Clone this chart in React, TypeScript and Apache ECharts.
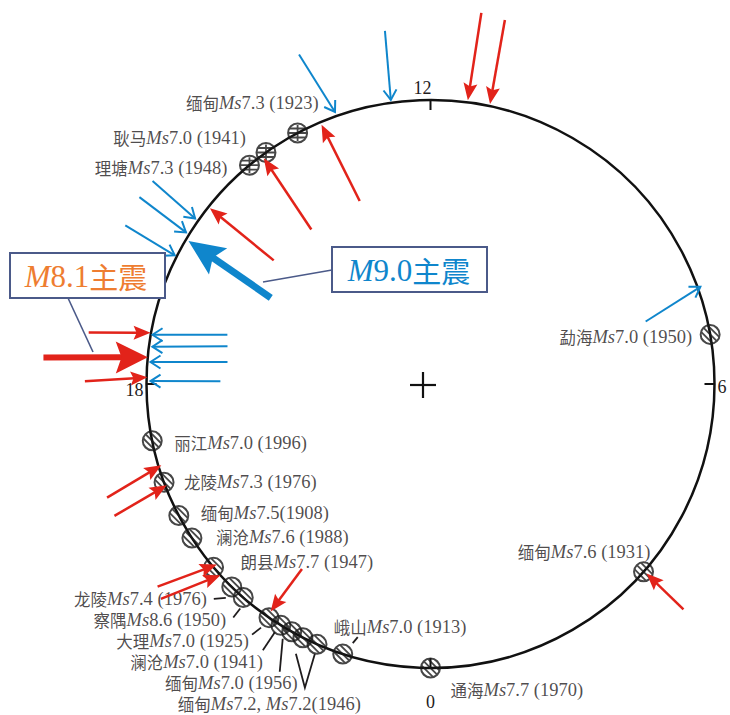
import React, { useEffect, useRef } from 'react';
import * as echarts from 'echarts';

// ---- Dial (24 h, 0 at the bottom, counter-clockwise) ----
const dialMax = 24;
const dialStep = 6;

// ---- Earthquakes placed on the dial ----
const quakeLabels = [
  '缅甸|Ms7.3 (1923)',
  '耿马|Ms7.0 (1941)',
  '理塘|Ms7.3 (1948)',
  '勐海|Ms7.0 (1950)',
  '缅甸|Ms7.6 (1931)',
  '通海|Ms7.7 (1970)',
  '丽江|Ms7.0 (1996)',
  '龙陵|Ms7.3 (1976)',
  '缅甸|Ms7.5(1908)',
  '澜沧|Ms7.6 (1988)',
  '朗县|Ms7.7 (1947)',
  '龙陵|Ms7.4 (1976)',
  '察隅|Ms8.6 (1950)',
  '大理|Ms7.0 (1925)',
  '澜沧|Ms7.0 (1941)',
  '缅甸|Ms7.0 (1956)',
  '缅甸|Ms7.2, Ms7.2(1946)',
  '',
  '峨山|Ms7.0 (1913)',
];
const quakeHours = [
  13.86, 14.36, 14.64, 6.67, 3.24, 0.0, 18.77, 19.35, 19.84, 20.19,
  20.68, 21.04, 21.25, 21.69, 21.88, 22.05, 22.22, 22.43, 22.8,
];

// ---- Arrows: [tipRadius, tipHour, tailRadius, tailHour] (radius 1 = dial) ----
const redArrows = [
  [1.008, 11.5, 1.319, 11.48],
  [1.008, 11.2, 1.308, 11.23],
  [0.99, 13.52, 0.691, 13.41],
  [0.988, 14.43, 0.687, 14.51],
  [0.993, 15.43, 0.703, 15.45],
  [1.002, 17.31, 1.217, 17.43],
  [0.997, 17.91, 1.217, 17.97],
  [0.99, 19.12, 1.207, 19.29],
  [0.995, 19.4, 1.206, 19.51],
  [0.985, 20.68, 1.197, 20.44],
  [1.0, 20.82, 1.214, 20.57],
  [0.979, 21.66, 0.793, 21.68],
  [1.012, 3.25, 1.193, 3.22],
];
const blueArrows = [
  [1.01, 12.53, 1.254, 12.49],
  [1.015, 13.29, 1.249, 13.45],
  [1.013, 15.66, 1.212, 15.59],
  [1.013, 15.88, 1.218, 15.82],
  [1.008, 16.22, 1.211, 16.17],
  [0.994, 17.33, 0.736, 17.09],
  [0.988, 17.49, 0.727, 17.3],
  [0.989, 17.7, 0.719, 17.59],
  [0.986, 17.96, 0.74, 17.95],
  [1.01, 7.32, 0.789, 7.08],
];
const redMainArrow = [1.0, 17.64, 1.366, 17.74];
const blueMainArrow = [0.99, 15.96, 0.639, 16.11];

// ---- Styling ----
const LATIN = '"Liberation Serif", "Times New Roman", serif';
const CJK = '"Noto Sans CJK SC", sans-serif';
const INK = '#1f1c1d';
const RED = '#e2231a';
const BLUE = '#0f86cc';
const FRAME = '#4b5a89';
const ORANGE = '#ee7d31';
const LATIN_SIZE = 18.5;
const CJK_SIZE = 16.5;

// marker style per quake: 'bar' = horizontal stripes, 'diag' = diagonal hatching
const markerKinds = quakeHours.map((_, i) => (i < 3 ? 'bar' : 'diag'));

// label placement per quake: [align, dx, dy] from the marker centre
const labelPlacement: [string, number, number][] = [
  ['right', 21, -30],
  ['right', -20, -15],
  ['right', -22, 3],
  ['right', -18, 3],
  ['right', 7, -20],
  ['left', 20, 22],
  ['left', 22, 2],
  ['left', 20, 0],
  ['left', 22, -3],
  ['left', 24, -1],
  ['left', 27, -5],
  ['right', -25, 12],
  ['right', -17, 22.5],
  ['right', -20, 23.5],
  ['right', -18, 36.5],
  ['right', 6, 51],
  ['right', 58, 66],
  ['left', 0, 0],
  ['left', -9, -27],
];

// leader lines from crowded labels to their markers (pixel offsets)
const leaderOffsets: Record<number, number[][]> = {
  11: [[-18, 12], [-6, 11]],
  12: [[-10, 20], [-3, 11]],
  13: [[-17, 17], [-8, 10]],
  14: [[-18, 25], [-6, 7]],
  15: [[-12, 40], [-9, 7]],
  16: [[-7, 16], [2, 50], [12, 16]],
  18: [[10, -11], [15, -17]],
};

const arrowKinds = [
  { color: RED, width: 2.5, headLen: 17, headWidth: 14, filled: true },
  { color: RED, width: 6, headLen: 32, headWidth: 32, filled: true },
  { color: BLUE, width: 2, headLen: 10, headWidth: 13, filled: false },
  { color: BLUE, width: 7, headLen: 36, headWidth: 32, filled: true },
];

function markerSymbol(kind: string) {
  let inner = '';
  if (kind === 'bar') {
    inner =
      '<line x1="0" y1="13" x2="44" y2="13"/><line x1="0" y1="22" x2="44" y2="22"/>' +
      '<line x1="0" y1="31" x2="44" y2="31"/><line x1="22" y1="6" x2="22" y2="38"/>';
  } else {
    for (const c of [-26, -13, 0, 13, 26]) {
      inner += `<line x1="-10" y1="${-10 - c}" x2="54" y2="${54 - c}"/>`;
    }
  }
  const svg =
    '<svg xmlns="http://www.w3.org/2000/svg" width="44" height="44" viewBox="0 0 44 44">' +
    '<defs><clipPath id="k"><circle cx="22" cy="22" r="19"/></clipPath></defs>' +
    `<g clip-path="url(#k)" stroke="#1a1a1a" stroke-width="3.6">${inner}</g>` +
    '<circle cx="22" cy="22" r="19" fill="none" stroke="#1a1a1a" stroke-width="4"/></svg>';
  return 'image://data:image/svg+xml;charset=utf-8,' + encodeURIComponent(svg);
}

function richLabel(text: string) {
  if (!text) return '';
  const [place, rest] = text.split('|');
  return `{c|${place}}` + rest.replace(/Ms/g, '{i|Ms}');
}

function arrowShape(tip: number[], tail: number[], kind: number) {
  const s = arrowKinds[kind];
  const dx = tip[0] - tail[0];
  const dy = tip[1] - tail[1];
  const len = Math.hypot(dx, dy) || 1;
  const ux = dx / len;
  const uy = dy / len;
  const px = -uy;
  const py = ux;
  const bx = tip[0] - ux * s.headLen;
  const by = tip[1] - uy * s.headLen;
  const hw = s.headWidth / 2;
  if (s.filled) {
    const nx = tip[0] - ux * s.headLen * 0.82;
    const ny = tip[1] - uy * s.headLen * 0.82;
    return {
      type: 'group',
      children: [
        {
          type: 'line',
          shape: { x1: tail[0], y1: tail[1], x2: nx + ux, y2: ny + uy },
          style: { stroke: s.color, lineWidth: s.width },
        },
        {
          type: 'polygon',
          shape: {
            points: [
              [tip[0], tip[1]],
              [bx + px * hw, by + py * hw],
              [nx, ny],
              [bx - px * hw, by - py * hw],
            ],
          },
          style: { fill: s.color },
        },
      ],
    };
  }
  return {
    type: 'group',
    children: [
      {
        type: 'line',
        shape: { x1: tail[0], y1: tail[1], x2: tip[0], y2: tip[1] },
        style: { stroke: s.color, lineWidth: s.width },
      },
      {
        type: 'polyline',
        shape: {
          points: [
            [bx + px * hw, by + py * hw],
            [tip[0], tip[1]],
            [bx - px * hw, by - py * hw],
          ],
        },
        style: { stroke: s.color, lineWidth: s.width, fill: 'none' },
      },
    ],
  };
}

function buildOption() {
  const arrowData = [
    ...redArrows.map((a) => [...a, 0]),
    [...redMainArrow, 1],
    ...blueArrows.map((a) => [...a, 2]),
    [...blueMainArrow, 3],
  ];

  const quakeData = quakeHours.map((h, i) => {
    const [align, dx, dy] = labelPlacement[i];
    return {
      value: [1, h],
      symbol: markerSymbol(markerKinds[i]),
      label: {
        show: !!quakeLabels[i],
        position: 'inside',
        align,
        verticalAlign: 'middle',
        offset: [dx, dy],
      },
    };
  });

  const leaderData = Object.keys(leaderOffsets).map((k) => [1, quakeHours[+k], +k]);

  const boxRich = (color: string) => ({
    i: { fontFamily: LATIN, fontStyle: 'italic', fontSize: 31, fill: color },
    n: { fontFamily: LATIN, fontSize: 31, fill: color },
    c: { fontFamily: CJK, fontSize: 29, fill: color },
  });

  return {
    animation: false,
    backgroundColor: '#ffffff',
    polar: { center: [430.5, 384], radius: 284 },
    angleAxis: {
      type: 'value',
      min: 0,
      max: dialMax,
      interval: dialStep,
      startAngle: 270,
      clockwise: false,
      axisLine: { lineStyle: { color: '#111', width: 2.5 } },
      axisTick: { show: true, inside: true, length: 10, lineStyle: { color: '#111', width: 2 } },
      splitLine: { show: false },
      axisLabel: {
        margin: 3,
        color: INK,
        fontFamily: LATIN,
        fontSize: 18,
        formatter: (v: number) =>
          v === dialMax
            ? ''
            : v === 0
              ? '{b|0}'
              : v === 12
                ? '{t|12}'
                : v === 18
                  ? '{l|18}'
                  : '{r|6}',
        rich: {
          b: { padding: [22, 0, 0, 0], fontFamily: LATIN, fontSize: 18, color: INK },
          t: { padding: [0, 16, 0, 0], fontFamily: LATIN, fontSize: 18, color: INK },
          l: { padding: [12, 0, 0, 0], fontFamily: LATIN, fontSize: 18, color: INK },
          r: { padding: [6, 0, 0, 0], fontFamily: LATIN, fontSize: 18, color: INK },
        },
      },
    },
    radiusAxis: {
      type: 'value',
      min: 0,
      max: 1,
      show: false,
      splitLine: { show: false },
      axisLine: { show: false },
      axisLabel: { show: false },
      axisTick: { show: false },
    },
    series: [
      {
        type: 'custom',
        name: 'leaders',
        coordinateSystem: 'polar',
        silent: true,
        z: 3,
        data: leaderData,
        renderItem: (_p: any, api: any) => {
          const c = api.coord([api.value(0), api.value(1)]);
          const pts = leaderOffsets[api.value(2)].map(([dx, dy]) => [c[0] + dx, c[1] + dy]);
          return {
            type: 'polyline',
            shape: { points: pts },
            style: { stroke: INK, lineWidth: 1.8, fill: 'none' },
          };
        },
      },
      {
        type: 'scatter',
        name: 'quakes',
        coordinateSystem: 'polar',
        symbolSize: 22,
        silent: true,
        z: 4,
        label: {
          color: INK,
          fontFamily: LATIN,
          fontSize: LATIN_SIZE,
          lineHeight: 18,
          formatter: (p: any) => richLabel(quakeLabels[p.dataIndex]),
          rich: {
            c: { fontFamily: CJK, fontSize: CJK_SIZE, lineHeight: 18, color: INK },
            i: { fontFamily: LATIN, fontStyle: 'italic', fontSize: LATIN_SIZE, lineHeight: 18, color: INK },
          },
        },
        data: quakeData,
      },
      {
        type: 'custom',
        name: 'arrows',
        coordinateSystem: 'polar',
        silent: true,
        z: 5,
        data: arrowData,
        renderItem: (_p: any, api: any) => {
          const tip = api.coord([api.value(0), api.value(1)]);
          const tail = api.coord([api.value(2), api.value(3)]);
          return arrowShape(tip, tail, api.value(4));
        },
      },
    ],
    graphic: [
      // centre cross
      { type: 'line', shape: { x1: 410, y1: 385, x2: 436, y2: 385 }, style: { stroke: '#111', lineWidth: 2.2 } },
      { type: 'line', shape: { x1: 423, y1: 372, x2: 423, y2: 398 }, style: { stroke: '#111', lineWidth: 2.2 } },
      // M8.1 call-out
      { type: 'line', shape: { x1: 68, y1: 298, x2: 93, y2: 352 }, style: { stroke: FRAME, lineWidth: 1.6 }, z: 10 },
      {
        type: 'rect',
        shape: { x: 10, y: 253, width: 155, height: 45 },
        style: { fill: '#ffffff', stroke: FRAME, lineWidth: 2 },
        z: 10,
      },
      {
        type: 'text',
        x: 86,
        y: 276,
        z: 11,
        style: {
          text: '{i|M}{n|8.1}{c|主震}',
          rich: boxRich(ORANGE),
          align: 'center',
          verticalAlign: 'middle',
        },
      },
      // M9.0 call-out
      { type: 'line', shape: { x1: 332, y1: 270, x2: 263, y2: 282 }, style: { stroke: FRAME, lineWidth: 1.6 }, z: 10 },
      {
        type: 'rect',
        shape: { x: 332, y: 247, width: 155, height: 45 },
        style: { fill: '#ffffff', stroke: FRAME, lineWidth: 2 },
        z: 10,
      },
      {
        type: 'text',
        x: 409,
        y: 270,
        z: 11,
        style: {
          text: '{i|M}{n|9.0}{c|主震}',
          rich: boxRich(BLUE),
          align: 'center',
          verticalAlign: 'middle',
        },
      },
    ],
  };
}

export default function App() {
  const ref = useRef<HTMLDivElement>(null);
  useEffect(() => {
    if (!ref.current) return;
    const chart = echarts.init(ref.current, null, { renderer: 'svg' });
    chart.setOption(buildOption() as any);
    return () => chart.dispose();
  }, []);
  return (
    <div
      ref={ref}
      style={{ position: 'absolute', left: 0, top: 0, width: 730, height: 715, background: '#fff' }}
    />
  );
}
